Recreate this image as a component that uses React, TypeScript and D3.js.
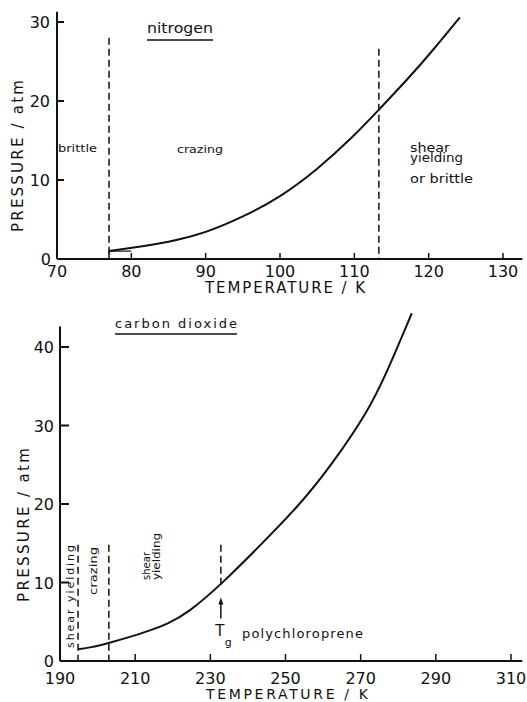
import React from 'react';
import * as d3 from 'd3';

// ---- Data ----
const n2Temp = [77, 80, 85, 90, 95, 100, 105, 110, 113.3, 117.4, 120.2, 124.2];
const n2Press = [1.0, 1.4, 2.1, 3.3, 5.3, 7.8, 11.3, 15.6, 18.9, 23.0, 26.0, 30.6];
const n2XTicks = [70, 80, 90, 100, 110, 120, 130];
const n2YTicks = [0, 10, 20, 30];
const n2Bounds = [77, 113.3];
const n2BoundTops = [28, 26.6];

const co2Temp = [194.8, 198, 203, 209, 214, 218.5, 224, 233, 243, 254, 262, 272, 277, 283.6];
const co2Press = [1.5, 1.7, 2.3, 3.1, 3.9, 4.7, 6.1, 9.8, 14.6, 20.0, 24.8, 31.8, 36.8, 44.3];
const co2XTicks = [190, 210, 230, 250, 270, 290, 310];
const co2YTicks = [0, 10, 20, 30, 40];
const co2Bounds = [194.8, 203];
const co2BoundTop = 14.8;
const tgTemp = 232.8;
const tgDashTop = 14.8;
const tgDashBottom = 9.3;
const tgArrowFrom = 5.4;
const tgArrowTo = 8.1;

const FONT = "'DejaVu Sans', sans-serif";

export default function App() {
  const x1 = d3.scaleLinear().domain([70, 130]).range([57, 503]);
  const y1 = d3.scaleLinear().domain([0, 30]).range([259, 22]);
  const x2 = d3.scaleLinear().domain([190, 310]).range([60, 511]);
  const y2 = d3.scaleLinear().domain([0, 40]).range([661, 347]);

  const n2Pts: [number, number][] = n2Temp.map((t, i) => [t, n2Press[i]]);
  const co2Pts: [number, number][] = co2Temp.map((t, i) => [t, co2Press[i]]);

  const line1 = d3
    .line<[number, number]>()
    .x((d) => x1(d[0]))
    .y((d) => y1(d[1]))
    .curve(d3.curveBasis);
  const line2 = d3
    .line<[number, number]>()
    .x((d) => x2(d[0]))
    .y((d) => y2(d[1]))
    .curve(d3.curveBasis);

  const stroke = '#111';

  return (
    <svg
      width={527}
      height={702}
      style={{ position: 'absolute', left: 0, top: 0, background: '#fff' }}
      fontFamily={FONT}
    >
      <rect x={0} y={0} width={527} height={702} fill="#fff" />

      {/* ===== TOP CHART (nitrogen) ===== */}
      <g>
        <line x1={x1(70)} x2={x1(70)} y1={y1(0)} y2={y1(31.3)} stroke={stroke} strokeWidth={2} />
        <line x1={x1(70)} x2={x1(132.6)} y1={y1(0)} y2={y1(0)} stroke={stroke} strokeWidth={2} />
        {n2YTicks.filter((v) => v > 0).map((v) => (
          <line key={'yt' + v} x1={x1(70)} x2={x1(70) + 7} y1={y1(v)} y2={y1(v)} stroke={stroke} strokeWidth={2} />
        ))}
        {n2XTicks.filter((v) => v > 70).map((v) => (
          <line key={'xt' + v} x1={x1(v)} x2={x1(v)} y1={y1(0)} y2={y1(0) - 6} stroke={stroke} strokeWidth={1.5} />
        ))}
        {n2YTicks.map((v) => (
          <text key={'yl' + v} x={v === 0 ? 51 : 50} y={y1(v) + 6} fontSize={16} textAnchor="end" fill={stroke}>
            {v}
          </text>
        ))}
        {n2XTicks.map((v) => (
          <text key={'xl' + v} x={x1(v)} y={277} fontSize={16} textAnchor="middle" fill={stroke}>
            {v}
          </text>
        ))}
        <text x={285} y={293} fontSize={15} textAnchor="middle" textLength={160} lengthAdjust="spacing" fill={stroke}>
          TEMPERATURE / K
        </text>
        <text
          transform={`translate(23, 156) rotate(-90)`}
          fontSize={15}
          textAnchor="middle"
          textLength={152}
          lengthAdjust="spacing"
          fill={stroke}
        >
          PRESSURE / atm
        </text>

        {n2Bounds.map((t, i) => (
          <line
            key={'b' + t}
            x1={x1(t)}
            x2={x1(t)}
            y1={y1(n2BoundTops[i])}
            y2={y1(0)}
            stroke={stroke}
            strokeWidth={1.5}
            strokeDasharray="7,4"
          />
        ))}

        <path d={line1(n2Pts) || ''} fill="none" stroke={stroke} strokeWidth={2} />
        <line x1={x1(n2Temp[0])} x2={x1(n2Temp[0])} y1={y1(0)} y2={y1(n2Press[0])} stroke={stroke} strokeWidth={1.5} />
        <line x1={x1(n2Temp[0])} x2={x1(80)} y1={y1(n2Press[0])} y2={y1(n2Press[0])} stroke={stroke} strokeWidth={1.2} />

        <text x={147} y={33} fontSize={14} textLength={66} lengthAdjust="spacingAndGlyphs" fill={stroke}>
          nitrogen
        </text>
        <line x1={147} x2={213} y1={40} y2={40} stroke={stroke} strokeWidth={1.5} />
        <text x={58} y={152} fontSize={11} textLength={39} lengthAdjust="spacingAndGlyphs" fill={stroke}>
          brittle
        </text>
        <text x={177} y={153} fontSize={11} textLength={46} lengthAdjust="spacingAndGlyphs" fill={stroke}>
          crazing
        </text>
        <text x={410} y={152} fontSize={12} textLength={40} lengthAdjust="spacingAndGlyphs" fill={stroke}>
          shear
        </text>
        <text x={410} y={162} fontSize={12} textLength={53} lengthAdjust="spacingAndGlyphs" fill={stroke}>
          yielding
        </text>
        <text x={410} y={183} fontSize={12} textLength={63} lengthAdjust="spacingAndGlyphs" fill={stroke}>
          or  brittle
        </text>
      </g>

      {/* ===== BOTTOM CHART (carbon dioxide) ===== */}
      <g>
        <line x1={x2(190)} x2={x2(190)} y1={y2(0)} y2={y2(42.6)} stroke={stroke} strokeWidth={2} />
        <line x1={x2(190)} x2={x2(313)} y1={y2(0)} y2={y2(0)} stroke={stroke} strokeWidth={2} />
        {co2YTicks.filter((v) => v > 0).map((v) => (
          <line key={'yt' + v} x1={x2(190)} x2={x2(190) + 9} y1={y2(v)} y2={y2(v)} stroke={stroke} strokeWidth={2} />
        ))}
        {co2XTicks.filter((v) => v > 190).map((v) => (
          <line key={'xt' + v} x1={x2(v)} x2={x2(v)} y1={y2(0)} y2={y2(0) - 7} stroke={stroke} strokeWidth={1.5} />
        ))}
        {co2YTicks.map((v) => (
          <text key={'yl' + v} x={54} y={y2(v) + 6} fontSize={16} textAnchor="end" fill={stroke}>
            {v}
          </text>
        ))}
        {co2XTicks.map((v) => (
          <text key={'xl' + v} x={x2(v)} y={684} fontSize={16} textAnchor="middle" fill={stroke}>
            {v}
          </text>
        ))}
        <text x={287} y={699} fontSize={14} textAnchor="middle" textLength={162} lengthAdjust="spacing" fill={stroke}>
          TEMPERATURE / K
        </text>
        <text
          transform={`translate(29, 525) rotate(-90)`}
          fontSize={15}
          textAnchor="middle"
          textLength={154}
          lengthAdjust="spacing"
          fill={stroke}
        >
          PRESSURE / atm
        </text>

        {co2Bounds.map((t) => (
          <line
            key={'b' + t}
            x1={x2(t)}
            x2={x2(t)}
            y1={y2(co2BoundTop)}
            y2={y2(0)}
            stroke={stroke}
            strokeWidth={1.5}
            strokeDasharray="7,4"
          />
        ))}
        <line
          x1={x2(tgTemp)}
          x2={x2(tgTemp)}
          y1={y2(tgDashTop)}
          y2={y2(tgDashBottom)}
          stroke={stroke}
          strokeWidth={1.5}
          strokeDasharray="7,4"
        />
        <line x1={x2(tgTemp)} x2={x2(tgTemp)} y1={y2(tgArrowFrom)} y2={y2(tgArrowTo) + 4} stroke={stroke} strokeWidth={1.5} />
        <path d={`M${x2(tgTemp)},${y2(tgArrowTo)} l-2.5,7 l5,0 z`} fill={stroke} />

        <path d={line2(co2Pts) || ''} fill="none" stroke={stroke} strokeWidth={2} />

        <text x={115} y={328} fontSize={13} textLength={122} lengthAdjust="spacing" fill={stroke}>
          carbon dioxide
        </text>
        <line x1={115} x2={237} y1={334} y2={334} stroke={stroke} strokeWidth={1.5} />

        <text transform="translate(74, 648) rotate(-90)" fontSize={11} textLength={103} lengthAdjust="spacing" fill={stroke}>
          shear  yielding
        </text>
        <text transform="translate(97, 595) rotate(-90)" fontSize={11} textLength={48} lengthAdjust="spacingAndGlyphs" fill={stroke}>
          crazing
        </text>
        <text transform="translate(150, 580) rotate(-90)" fontSize={11} textLength={28} lengthAdjust="spacingAndGlyphs" fill={stroke}>
          shear
        </text>
        <text transform="translate(160, 580) rotate(-90)" fontSize={11} textLength={47} lengthAdjust="spacingAndGlyphs" fill={stroke}>
          yielding
        </text>

        <text x={x2(tgTemp) - 1} y={636} fontSize={15} textAnchor="middle" fill={stroke}>T</text>
        <text x={x2(tgTemp) + 4} y={646} fontSize={11} fill={stroke}>g</text>
        <text x={242} y={638} fontSize={13} textLength={121} lengthAdjust="spacing" fill={stroke}>
          polychloroprene
        </text>
      </g>
    </svg>
  );
}
